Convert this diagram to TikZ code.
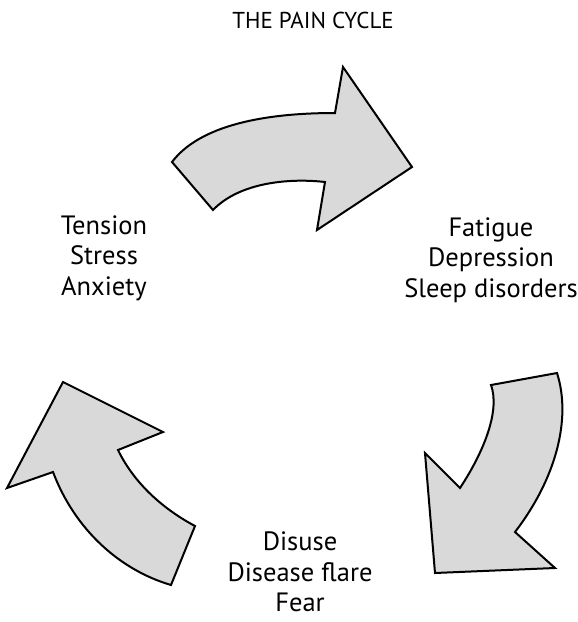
\documentclass[tikz,border=0pt]{standalone}
\usepackage{fontspec}
\setmainfont{PT Sans}
\begin{document}
\begin{tikzpicture}[x=1pt,y=-1pt,
  cyclearrow/.style={draw=black, fill=gray!30, line width=2pt, line join=miter},
  label/.style={align=center, font=\fontsize{26.5}{30.5}\selectfont, inner sep=0pt},
  titletext/.style={font=\fontsize{23}{26}\selectfont, inner sep=0pt}]
\useasboundingbox (0,0) rectangle (578,622);
% title
\node[titletext] (title) at (313,20) {THE PAIN CYCLE};
% labels
\node[label] (left) at (104,258) {Tension\\Stress\\Anxiety};
\node[label] (right) at (491,260) {Fatigue\\Depression\\Sleep disorders};
\node[label] (bottom) at (300,572) {Disuse\\Disease flare\\Fear};
% top arrow
\path[cyclearrow] (172,162) .. controls (200,125) and (265,113) .. (335,113)
  -- (343,67) -- (412,167) -- (317,230) -- (325,182)
  .. controls (290,178) and (240,182) .. (213,210) -- cycle;
% right arrow
\path[cyclearrow] (491,385) -- (557,373)
  .. controls (572,420) and (555,480) .. (515,532)
  -- (555,568) -- (435,573) -- (425,453) -- (460,488)
  .. controls (485,450) and (500,410) .. (491,385) -- cycle;
% left arrow
\path[cyclearrow] (63,382) -- (163,432) -- (118,450)
  .. controls (135,485) and (165,510) .. (195,526)
  -- (171,585) .. controls (120,570) and (75,530) .. (53,472)
  -- (7,488) -- cycle;
\end{tikzpicture}
\end{document}
